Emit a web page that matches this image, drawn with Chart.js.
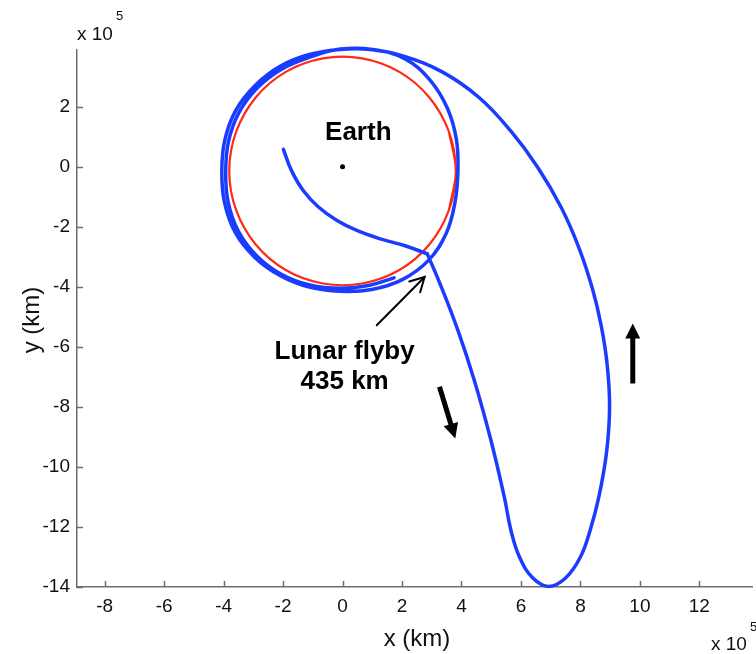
<!DOCTYPE html>
<html><head><meta charset="utf-8">
<script src="https://cdn.jsdelivr.net/npm/chart.js@4.4.1/dist/chart.umd.min.js"></script>
<style>html,body{margin:0;padding:0;background:#fff;}canvas{display:block;}</style>
</head><body>
<canvas id="c" width="756" height="654"></canvas>
<script>
// ---- data (units of 10^5 km) ----
const xTicks = [-8,-6,-4,-2,0,2,4,6,8,10,12];
const yTicks = [-14,-12,-10,-8,-6,-4,-2,0,2];
const xRange = [-8.93, 13.77];
const yRange = [-14, 3.89];

// leg from Earth parking region to the lunar flyby
const transferLeg = [
  [-1.99,0.58],[-1.72,-0.12],[-1.33,-0.78],[-0.82,-1.33],[-0.2,-1.78],[0.5,-2.13],
  [1.3,-2.41],[2.1,-2.63],[2.85,-2.9]
];
// after flyby: big outer loop back to the top of the Earth region
const outerLoop = [
  [2.85,-2.9],[3.3,-3.95],[3.88,-5.45],[4.43,-7.11],[4.99,-9.11],[5.44,-11.0],[5.66,-12.1],
  [5.95,-13.0],[6.4,-13.7],[6.94,-13.98],[7.5,-13.7],[8.0,-13.0],[8.33,-12.1],[8.62,-11.0],
  [8.88,-9.5],[8.98,-8.0],[8.9,-6.6],[8.7,-5.3],[8.4,-4.05],[7.95,-2.7],[7.35,-1.35],[6.55,0.0],
  [5.65,1.2],[4.6,2.3],[3.35,3.16],[2.0,3.7],[1.01,3.9]
];
// first pass around the Earth (continues from the outer loop)
const firstPass = [
  [-0.08,3.91],[-1.12,3.74],[-2.10,3.35],[-2.94,2.71],[-3.59,1.88],[-3.96,0.89],[-4.06,-0.15],
  [-3.97,-1.19],[-3.61,-2.19],[-2.95,-3.02],[-2.09,-3.63],[-1.12,-4.01],[-0.08,-4.15],[0.98,-4.09],
  [2.01,-3.76],[2.89,-3.12],[3.49,-2.21],[3.78,-1.19],[3.88,-0.15],[3.83,0.90],[3.53,1.94],
  [2.95,2.88],[2.09,3.60],[1.01,3.91]
];
// second, slightly tighter pass
const secondPass = [
  [-0.08,3.92],[-1.10,3.65],[-2.05,3.25],[-2.86,2.63],[-3.48,1.81],[-3.83,0.86],[-3.93,-0.15],
  [-3.85,-1.16],[-3.51,-2.13],[-2.89,-2.96],[-2.06,-3.58],[-1.10,-3.94],[-0.08,-4.05],[0.94,-3.94],
  [1.73,-3.70]
];
// lunar orbit (red)
const moonOrbit = [
  [3.58,-1.44],[3.81,-0.14],[3.58,1.16],[2.92,2.31],[1.91,3.16],[0.66,3.61],[-0.66,3.61],
  [-1.91,3.16],[-2.92,2.31],[-3.58,1.16],[-3.81,-0.14],[-3.58,-1.44],[-2.92,-2.59],[-1.91,-3.44],
  [-0.66,-3.89],[0.66,-3.89],[1.91,-3.44],[2.92,-2.59],[3.58,-1.44],[3.81,-0.14],[3.58,1.16]
];
const earth = [[0,0]];

// annotations (data coordinates)
const textLabels = [
  {text:'Earth', x:0.53, y:0.89},
  {text:'Lunar flyby', x:0.07, y:-6.39},
  {text:'435 km', x:0.07, y:-7.39}
];
const thinArrow = {from:[1.15,-5.28], to:[2.76,-3.67]};
const thickArrows = [
  {from:[3.26,-7.33], to:[3.79,-9.05]},
  {from:[9.76,-7.22], to:[9.76,-5.22]}
];

const FONT = '"Liberation Sans", Arial, Helvetica, sans-serif';
const toPts = a => a.map(([x,y]) => ({x, y}));
const AXIS_COLOR = '#6e6e6e';
const BLUE = '#1a3cff';

const annot = {
  id: 'annot',
  afterDatasetsDraw(chart) {
    const {ctx, scales:{x, y}} = chart;
    const X = v => x.getPixelForValue(v), Y = v => y.getPixelForValue(v);
    ctx.save();
    ctx.fillStyle = '#000'; ctx.strokeStyle = '#000';
    ctx.font = 'bold 26px ' + FONT;
    ctx.textAlign = 'center'; ctx.textBaseline = 'alphabetic';
    textLabels.forEach(l => ctx.fillText(l.text, X(l.x), Y(l.y)));
    {
      const x0 = X(thinArrow.from[0]), y0 = Y(thinArrow.from[1]);
      const x1 = X(thinArrow.to[0]), y1 = Y(thinArrow.to[1]);
      ctx.lineWidth = 2; ctx.lineCap = 'round';
      ctx.beginPath(); ctx.moveTo(x0,y0); ctx.lineTo(x1,y1); ctx.stroke();
      const a = Math.atan2(y0-y1, x0-x1), L = 16, w = 0.5;
      ctx.beginPath();
      ctx.moveTo(x1 + L*Math.cos(a+w), y1 + L*Math.sin(a+w));
      ctx.lineTo(x1, y1);
      ctx.lineTo(x1 + L*Math.cos(a-w), y1 + L*Math.sin(a-w));
      ctx.stroke();
    }
    thickArrows.forEach(ar => {
      const x0 = X(ar.from[0]), y0 = Y(ar.from[1]);
      const x1 = X(ar.to[0]), y1 = Y(ar.to[1]);
      const a = Math.atan2(y1-y0, x1-x0), HL = 15, HW = 7.5;
      const bx = x1 - HL*Math.cos(a), by = y1 - HL*Math.sin(a);
      ctx.lineWidth = 5; ctx.lineCap = 'butt';
      ctx.beginPath(); ctx.moveTo(x0,y0); ctx.lineTo(bx+2*Math.cos(a), by+2*Math.sin(a)); ctx.stroke();
      ctx.beginPath();
      ctx.moveTo(x1,y1);
      ctx.lineTo(bx + HW*Math.sin(a), by - HW*Math.cos(a));
      ctx.lineTo(bx - HW*Math.sin(a), by + HW*Math.cos(a));
      ctx.closePath(); ctx.fill();
    });
    ctx.restore();
  },
  afterDraw(chart) {
    const {ctx, chartArea:ca, scales:{x, y}} = chart;
    ctx.save();
    ctx.strokeStyle = AXIS_COLOR; ctx.lineWidth = 1.5;
    ctx.beginPath();
    xTicks.forEach(v => { const p = Math.round(x.getPixelForValue(v)) + 0.5; ctx.moveTo(p, ca.bottom); ctx.lineTo(p, ca.bottom - 6); });
    yTicks.forEach(v => { const p = Math.round(y.getPixelForValue(v)) + 0.5; ctx.moveTo(ca.left, p); ctx.lineTo(ca.left + 6, p); });
    ctx.stroke();
    ctx.fillStyle = '#111';
    ctx.textBaseline = 'alphabetic';
    ctx.textAlign = 'left';
    ctx.font = '19px ' + FONT;
    ctx.fillText('x 10', 77, 40);
    ctx.fillText('x 10', 711, 650);
    ctx.font = '13px ' + FONT;
    ctx.fillText('5', 116, 20);
    ctx.fillText('5', 750, 631);
    ctx.font = '24px ' + FONT;
    ctx.textAlign = 'center';
    ctx.fillText('x (km)', 417, 646);
    ctx.translate(39, 320);
    ctx.rotate(-Math.PI/2);
    ctx.fillText('y (km)', 0, 0);
    ctx.restore();
  }
};

const lineDs = (label, arr, color, w, order) => ({
  label, data: toPts(arr), showLine:true, borderColor:color, borderWidth:w,
  pointRadius:0, tension:0.4, order, clip:false, borderCapStyle:'round', borderJoinStyle:'round'
});

new Chart(document.getElementById('c'), {
  type: 'scatter',
  data: {
    datasets: [
      Object.assign(lineDs('Lunar orbit', moonOrbit, '#ff2a14', 2.2, 3), {tension:0.34}),
      lineDs('Transfer', transferLeg, BLUE, 3.5, 2),
      lineDs('Return', outerLoop.concat(firstPass, secondPass), BLUE, 3.5, 2),
      {label:'Earth', data: toPts(earth), showLine:false, pointRadius:2.5, backgroundColor:'#000', borderWidth:0, order:1}
    ]
  },
  options: {
    responsive: false,
    animation: false,
    layout: {padding: {top:50, left:0, right:0, bottom:0}},
    plugins: {legend:{display:false}, tooltip:{enabled:false}},
    scales: {
      x: {
        type:'linear', min:xRange[0], max:xRange[1],
        afterBuildTicks: s => { s.ticks = xTicks.map(v => ({value:v})); },
        afterFit: s => { s.height = 67; },
        grid:{display:false, drawTicks:false},
        border:{display:true, color:AXIS_COLOR, width:1.5},
        ticks:{color:'#111', font:{family:FONT, size:19}, padding:8, maxRotation:0, autoSkip:false, callback: v => String(v)}
      },
      y: {
        type:'linear', min:yRange[0], max:yRange[1],
        afterBuildTicks: s => { s.ticks = yTicks.map(v => ({value:v})); },
        afterFit: s => { s.width = 77; },
        grid:{display:false, drawTicks:false},
        border:{display:true, color:AXIS_COLOR, width:1.5},
        ticks:{color:'#111', font:{family:FONT, size:19}, padding:7, autoSkip:false, callback: v => String(v)}
      }
    }
  },
  plugins: [annot]
});
</script>
</body></html>
